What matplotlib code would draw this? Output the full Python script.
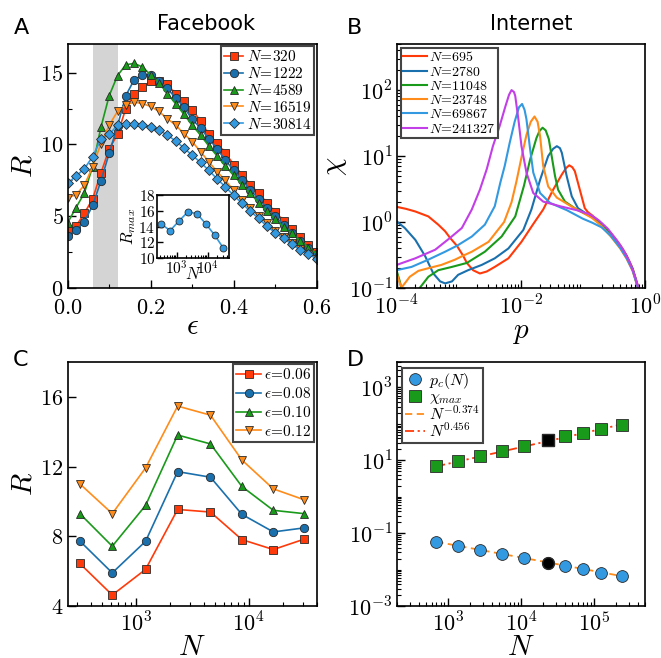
import numpy as np
import matplotlib
matplotlib.use("Agg")
import matplotlib.pyplot as plt
from matplotlib.ticker import FuncFormatter, MultipleLocator, LogLocator, NullFormatter, FixedLocator

plt.rcParams['mathtext.fontset'] = 'cm'
plt.rcParams['font.family'] = 'DejaVu Sans'

# ---------------- data ----------------
# panel A : Facebook, R vs epsilon
eps = [0.00, 0.02, 0.04, 0.06, 0.08, 0.10, 0.12, 0.14, 0.16, 0.18, 0.20, 0.22, 0.24, 0.26, 0.28,
       0.30, 0.32, 0.34, 0.36, 0.38, 0.40, 0.42, 0.44, 0.46, 0.48, 0.50, 0.52, 0.54, 0.56, 0.58, 0.60]
R_320 = [3.95, 4.3, 5.2, 6.2, 8.0, 9.7, 10.7, 12.5, 13.5, 14.0, 14.4, 14.4, 14.2, 13.5, 13.0,
         12.4, 11.65, 10.7, 10.1, 9.4, 8.6, 7.9, 7.2, 6.6, 5.95, 5.3, 4.7, 4.1, 3.55, 3.0, 2.5]
R_1222 = [3.65, 4.05, 4.6, 5.75, 7.45, 9.4, 11.3, 13.4, 14.5, 14.85, 14.85, 14.45, 13.9, 13.25, 12.6,
          11.75, 11.15, 10.4, 9.7, 8.9, 8.2, 7.5, 6.85, 6.2, 5.6, 5.0, 4.4, 3.85, 3.3, 2.8, 2.4]
R_4589 = [4.55, 5.6, 6.6, 8.45, 11.2, 13.4, 14.8, 15.55, 15.65, 15.4, 14.85, 14.3, 13.55, 12.85, 12.1,
          11.35, 10.65, 9.9, 9.2, 8.5, 7.85, 7.2, 6.6, 5.95, 5.35, 4.8, 4.25, 3.8, 3.3, 2.8, 2.4]
R_16519 = [6.3, 6.5, 7.15, 8.45, 10.05, 11.35, 12.3, 12.75, 12.95, 12.85, 12.65, 12.3, 11.8, 11.35, 10.75,
           10.2, 9.5, 8.8, 8.1, 7.5, 6.8, 6.15, 5.6, 5.0, 4.5, 4.0, 3.55, 3.15, 2.75, 2.4, 2.05]
R_30814 = [7.3, 7.8, 8.3, 9.15, 10.35, 10.7, 11.35, 11.4, 11.4, 11.35, 11.25, 11.0, 10.65, 10.25, 9.75,
           9.25, 8.75, 8.2, 7.6, 7.05, 6.45, 5.9, 5.35, 4.85, 4.3, 3.85, 3.45, 3.05, 2.65, 2.35, 2.05]
fb_labels = ['320', '1222', '4589', '16519', '30814']

# inset / panel C sizes
N_fb = [320, 620, 1222, 2350, 4589, 8700, 16519, 30814]
R_max = [14.34, 13.5, 14.76, 15.9, 15.6, 14.34, 12.95, 11.35]

# panel C
R_e006 = [6.44, 4.63, 6.10, 9.54, 9.39, 7.81, 7.24, 7.83]
R_e008 = [7.73, 5.90, 7.71, 11.71, 11.39, 9.26, 8.25, 8.48]
R_e010 = [9.30, 7.43, 9.77, 13.81, 13.30, 10.86, 9.49, 9.30]
R_e012 = [11.01, 9.30, 11.92, 15.47, 14.95, 12.38, 10.72, 10.10]
eps_labels = ['0.06', '0.08', '0.10', '0.12']

# panel B : Internet, chi vs p (log10 values)
lp_695 = [-4.0, -3.85, -3.70, -3.49, -3.33, -3.22, -3.14, -3.03, -2.93, -2.87, -2.77, -2.66, -2.55, -2.42,
          -2.20, -1.99, -1.80, -1.64, -1.48, -1.34, -1.27, -1.22, -1.17, -1.13, -1.05, -0.97, -0.92, -0.85,
          -0.70, -0.55, -0.40, -0.30, -0.20, -0.12, -0.09]
lc_695 = [0.23, 0.20, 0.16, 0.085, -0.04, -0.14, -0.24, -0.36, -0.51, -0.62, -0.73, -0.78, -0.75, -0.68,
          -0.55, -0.30, -0.03, 0.19, 0.49, 0.72, 0.82, 0.86, 0.83, 0.77, 0.49, 0.21, 0.15, 0.10,
          -0.02, -0.17, -0.35, -0.50, -0.70, -0.95, -1.1]
lp_2780 = [-4.0, -3.87, -3.70, -3.54, -3.41, -3.30, -3.22, -3.11, -3.01, -2.85, -2.63, -2.42, -2.20, -1.96,
           -1.83, -1.69, -1.56, -1.48, -1.42, -1.37, -1.34, -1.26, -1.18, -1.08, -0.95, -0.85, -0.70, -0.55,
           -0.40, -0.30, -0.20, -0.12, -0.09]
lc_2780 = [0.01, -0.09, -0.27, -0.52, -0.78, -0.90, -0.93, -0.90, -0.80, -0.73, -0.65, -0.55, -0.40, -0.12,
           0.19, 0.64, 1.0, 1.11, 1.15, 1.12, 1.05, 0.69, 0.39, 0.21, 0.13, 0.08, -0.03, -0.18,
           -0.36, -0.51, -0.71, -0.96, -1.1]
lp_11048 = [-4.0, -3.95, -3.90, -3.75, -3.63, -3.49, -3.33, -3.11, -2.87, -2.58, -2.31, -2.09, -1.95, -1.85,
            -1.75, -1.70, -1.65, -1.60, -1.55, -1.50, -1.45, -1.40, -1.29, -1.10, -0.95, -0.85, -0.70, -0.55,
            -0.40, -0.30, -0.20, -0.12, -0.09]
lc_11048 = [-0.74, -0.90, -1.1, -1.3, -1.0, -0.83, -0.73, -0.68, -0.62, -0.45, -0.22, 0.085, 0.55, 0.95,
            1.27, 1.38, 1.43, 1.39, 1.26, 0.98, 0.70, 0.49, 0.31, 0.19, 0.12, 0.07, -0.04, -0.19,
            -0.37, -0.52, -0.72, -0.97, -1.1]
lp_23748 = [-4.0, -3.96, -3.92, -3.87, -3.79, -3.65, -3.49, -3.28, -3.06, -2.93, -2.79, -2.52, -2.27, -2.15,
            -2.07, -1.99, -1.91, -1.84, -1.78, -1.73, -1.69, -1.64, -1.56, -1.42, -1.21, -1.0, -0.85, -0.70,
            -0.55, -0.40, -0.30, -0.20, -0.12, -0.09]
lc_23748 = [-0.78, -0.90, -0.99, -0.93, -0.83, -0.74, -0.70, -0.65, -0.57, -0.51, -0.45, -0.30, 0.0, 0.30,
            0.62, 0.98, 1.32, 1.52, 1.60, 1.52, 1.30, 0.85, 0.54, 0.37, 0.25, 0.14, 0.06, -0.06,
            -0.22, -0.40, -0.55, -0.74, -0.98, -1.1]
lp_69867 = [-4.0, -3.76, -3.49, -3.22, -3.03, -2.79, -2.58, -2.42, -2.33, -2.26, -2.18, -2.10, -2.03, -1.98,
            -1.94, -1.91, -1.85, -1.80, -1.69, -1.53, -1.26, -1.0, -0.85, -0.70, -0.55, -0.40, -0.30, -0.20,
            -0.12, -0.09]
lc_69867 = [-0.73, -0.68, -0.57, -0.45, -0.36, -0.22, -0.04, 0.24, 0.60, 0.85, 1.20, 1.52, 1.74, 1.79,
            1.70, 1.56, 1.10, 0.75, 0.44, 0.29, 0.18, 0.05, -0.01, -0.08, -0.21, -0.39, -0.54, -0.73,
            -0.98, -1.1]
lp_241327 = [-4.0, -3.70, -3.38, -3.14, -2.95, -2.79, -2.66, -2.55, -2.45, -2.34, -2.25, -2.19, -2.15, -2.11,
             -2.09, -2.04, -1.99, -1.91, -1.80, -1.64, -1.37, -1.10, -0.90, -0.75, -0.60, -0.45, -0.35, -0.25,
             -0.17, -0.12, -0.09]
lc_241327 = [-0.65, -0.55, -0.42, -0.24, -0.09, 0.19, 0.49, 0.80, 1.15, 1.46, 1.75, 1.93, 2.0, 1.97,
             1.91, 1.56, 1.15, 0.75, 0.44, 0.31, 0.24, 0.18, 0.12, 0.03, -0.10, -0.28, -0.42, -0.60,
             -0.80, -0.96, -1.1]
inet_labels = ['695', '2780', '11048', '23748', '69867', '241327']

# panel D
N_inet = [695, 1390, 2780, 5560, 11048, 23748, 39800, 69867, 126000, 241327]
p_c = [0.058, 0.044, 0.034, 0.026, 0.021, 0.015, 0.0123, 0.0101, 0.0082, 0.0066]
chi_max = [6.8, 9.3, 13.0, 18.0, 24.5, 35.5, 46, 56, 72, 95]
highlight = 5
fit_N = [695, 241327]
fit_pc = [0.058, 0.0066]
fit_chi = [6.8, 97]
D_yticks = [1e-3, 1e-1, 1e1, 1e3]

# ---------------- style ----------------
c_red = '#ff3a0a'
c_dblue = '#1a70ad'
c_green = '#1a9a1a'
c_orange = '#ff8c1a'
c_lblue = '#3399e0'
c_purple = '#c23ee6'
edge = '#2a2a2a'
TICK_FS = 16
LAB_FS = 21

fig = plt.figure(figsize=(6.61, 6.58), dpi=100)
W, H = 661.0, 658.0


def box(l, t, r, b):
    return [l / W, 1 - b / H, (r - l) / W, (b - t) / H]


def style_ax(ax, fs=TICK_FS, xpad=5):
    for s in ax.spines.values():
        s.set_linewidth(1.2)
    ax.tick_params(which='both', direction='in', top=False, right=False, labelsize=fs)
    ax.tick_params(which='major', length=6, width=1.0, pad=3)
    ax.tick_params(which='minor', length=3, width=0.8)
    ax.tick_params(axis='x', which='major', pad=xpad)


def lin_fmt(fmt):
    return FuncFormatter(lambda v, _: r'$%s$' % (fmt % v))


def pow_fmt(v, _):
    if v <= 0:
        return ''
    return r'$10^{%d}$' % int(round(np.log10(v)))


def log_ticks(axis, minor_subs=np.arange(2, 10)):
    axis.set_major_locator(LogLocator(base=10))
    axis.set_minor_locator(LogLocator(base=10, subs=minor_subs, numticks=30))
    axis.set_minor_formatter(NullFormatter())
    axis.set_major_formatter(FuncFormatter(pow_fmt))


def legend_frame(leg):
    fr = leg.get_frame()
    fr.set_edgecolor('#444444')
    fr.set_linewidth(1.5)
    fr.set_boxstyle('square', pad=0)


def label_N(n):
    return r'$N\!=\!%s$' % n


# ---------------- panel A ----------------
axA = fig.add_axes(box(67.7, 44, 316.7, 288))
axA.axvspan(0.06, 0.12, color='#d4d4d4', lw=0, zorder=0)
series_A = [(R_320, c_red, 's'), (R_1222, c_dblue, 'o'), (R_4589, c_green, '^'),
            (R_16519, c_orange, 'v'), (R_30814, c_lblue, 'D')]
for (vals, col, mk), lab in zip(series_A, fb_labels):
    ms = 4.6 if mk == 'D' else 6.0
    axA.plot(eps, vals, color=col, lw=1.2, marker=mk, ms=ms, mfc=col, mec=edge, mew=0.6,
             label=label_N(lab))
axA.set_xlim(0, 0.6)
axA.set_ylim(0, 17)
axA.xaxis.set_major_locator(MultipleLocator(0.2))
axA.xaxis.set_minor_locator(MultipleLocator(0.1))
axA.yaxis.set_major_locator(MultipleLocator(5))
axA.yaxis.set_minor_locator(MultipleLocator(2.5))
axA.xaxis.set_major_formatter(lin_fmt('%.1f'))
axA.yaxis.set_major_formatter(lin_fmt('%d'))
style_ax(axA, xpad=7)
axA.set_xlabel(r'$\epsilon$', fontsize=LAB_FS, labelpad=-4)
axA.set_ylabel(r'$R$', fontsize=LAB_FS, labelpad=2)
leg = axA.legend(loc='upper right', fontsize=11, handlelength=1.3, handletextpad=0.2,
                 labelspacing=0.12, borderaxespad=0.15, borderpad=0.2, fancybox=False, framealpha=1)
legend_frame(leg)

# inset
axI = fig.add_axes(box(156.7, 195, 229.3, 258.3))
axI.plot(N_fb, R_max, color=c_lblue, lw=1.2, marker='o', ms=5, mfc=c_lblue, mec=edge, mew=0.6)
axI.set_xscale('log')
axI.set_xlim(230, 4.9e4)
axI.set_ylim(10, 18)
axI.yaxis.set_major_locator(MultipleLocator(2))
log_ticks(axI.xaxis)
axI.yaxis.set_major_formatter(lin_fmt('%d'))
style_ax(axI, fs=11, xpad=1)
axI.tick_params(which='major', length=4, pad=1)
axI.tick_params(which='minor', length=2)
axI.set_xlabel(r'$N$', fontsize=12, labelpad=-9)
axI.set_ylabel(r'$R_{max}$', fontsize=12, labelpad=0)

# ---------------- panel B ----------------
axB = fig.add_axes(box(396.7, 44, 645, 288))
series_B = [(lp_695, lc_695, c_red), (lp_2780, lc_2780, c_dblue), (lp_11048, lc_11048, c_green),
            (lp_23748, lc_23748, c_orange), (lp_69867, lc_69867, c_lblue), (lp_241327, lc_241327, c_purple)]
for (lp, lc, col), lab in zip(series_B, inet_labels):
    axB.plot(10 ** np.array(lp), 10 ** np.array(lc), color=col, lw=1.5, label=label_N(lab))
axB.set_xscale('log')
axB.set_yscale('log')
axB.set_xlim(1e-4, 1)
axB.set_ylim(0.1, 500)
log_ticks(axB.xaxis)
log_ticks(axB.yaxis)
style_ax(axB)
axB.set_xlabel(r'$p$', fontsize=LAB_FS, labelpad=-1)
axB.set_ylabel(r'$\chi$', fontsize=LAB_FS, labelpad=0)
leg = axB.legend(loc='upper left', fontsize=10, handlelength=1.7, handletextpad=0.2,
                 labelspacing=0.02, borderaxespad=0.3, borderpad=0.15, fancybox=False, framealpha=1)
legend_frame(leg)

# ---------------- panel C ----------------
axC = fig.add_axes(box(67.7, 362, 316.7, 606))
series_C = [(R_e006, c_red, 's'), (R_e008, c_dblue, 'o'), (R_e010, c_green, '^'), (R_e012, c_orange, 'v')]
for (vals, col, mk), lab in zip(series_C, eps_labels):
    axC.plot(N_fb, vals, color=col, lw=1.2, marker=mk, ms=6, mfc=col, mec=edge, mew=0.6,
             label=r'$\epsilon\!=\!%s$' % lab)
axC.set_xscale('log')
axC.set_xlim(250, 4e4)
axC.set_ylim(4, 18)
axC.yaxis.set_major_locator(MultipleLocator(4))
axC.yaxis.set_major_formatter(lin_fmt('%d'))
log_ticks(axC.xaxis)
style_ax(axC, xpad=4)
axC.set_xlabel(r'$N$', fontsize=LAB_FS, labelpad=-2)
axC.set_ylabel(r'$R$', fontsize=LAB_FS, labelpad=2)
leg = axC.legend(loc='upper right', fontsize=11, handlelength=1.6, handletextpad=0.2,
                 labelspacing=0.25, borderaxespad=0.15, borderpad=0.2, fancybox=False, framealpha=1)
legend_frame(leg)

# ---------------- panel D ----------------
axD = fig.add_axes(box(396.7, 362, 645, 606))
axD.plot(fit_N, fit_pc, color=c_orange, lw=1.3, ls=(0, (4, 2.5)), label=r'$N^{-0.374}$', zorder=2)
axD.plot(fit_N, fit_chi, color=c_red, lw=1.3, ls=(0, (5, 2, 1.2, 2)), label=r'$N^{0.456}$', zorder=2)
axD.plot(N_inet, p_c, ls='none', marker='o', ms=8.5, mfc=c_lblue, mec=edge, mew=0.6,
         label=r'$p_c(N)$', zorder=3)
axD.plot(N_inet, chi_max, ls='none', marker='s', ms=8.5, mfc=c_green, mec=edge, mew=0.6,
         label=r'$\chi_{max}$', zorder=3)
axD.plot(N_inet[highlight], p_c[highlight], ls='none', marker='o', ms=8.5, mfc='k', mec=edge, zorder=4)
axD.plot(N_inet[highlight], chi_max[highlight], ls='none', marker='s', ms=8.5, mfc='k', mec=edge, zorder=4)
axD.set_xscale('log')
axD.set_yscale('log')
axD.set_xlim(200, 5e5)
axD.set_ylim(1e-3, 5e3)
log_ticks(axD.xaxis)
axD.yaxis.set_major_locator(FixedLocator(D_yticks))
axD.yaxis.set_minor_locator(LogLocator(base=10, subs=np.arange(1, 10), numticks=30))
axD.yaxis.set_minor_formatter(NullFormatter())
axD.yaxis.set_major_formatter(FuncFormatter(pow_fmt))
style_ax(axD, xpad=4)
axD.set_xlabel(r'$N$', fontsize=LAB_FS, labelpad=-2)
h, l = axD.get_legend_handles_labels()
order = [2, 3, 0, 1]
leg = axD.legend([h[i] for i in order], [l[i] for i in order], loc='upper left', fontsize=11.5,
                 handlelength=1.2, handletextpad=0.3, labelspacing=-0.1, borderaxespad=0.35,
                 borderpad=0.2, fancybox=False, framealpha=1)
legend_frame(leg)

# ---------------- titles & panel letters ----------------
fig.text(14 / W, 1 - 34 / H, 'A', fontsize=16, va='baseline')
fig.text(347 / W, 1 - 34 / H, 'B', fontsize=16, va='baseline')
fig.text(13 / W, 1 - 366 / H, 'C', fontsize=16, va='baseline')
fig.text(347 / W, 1 - 366 / H, 'D', fontsize=16, va='baseline')
fig.text(206 / W, 1 - 30 / H, 'Facebook', fontsize=15, ha='center', va='baseline')
fig.text(531 / W, 1 - 30 / H, 'Internet', fontsize=15, ha='center', va='baseline')

fig.savefig('out.png', dpi=100)
